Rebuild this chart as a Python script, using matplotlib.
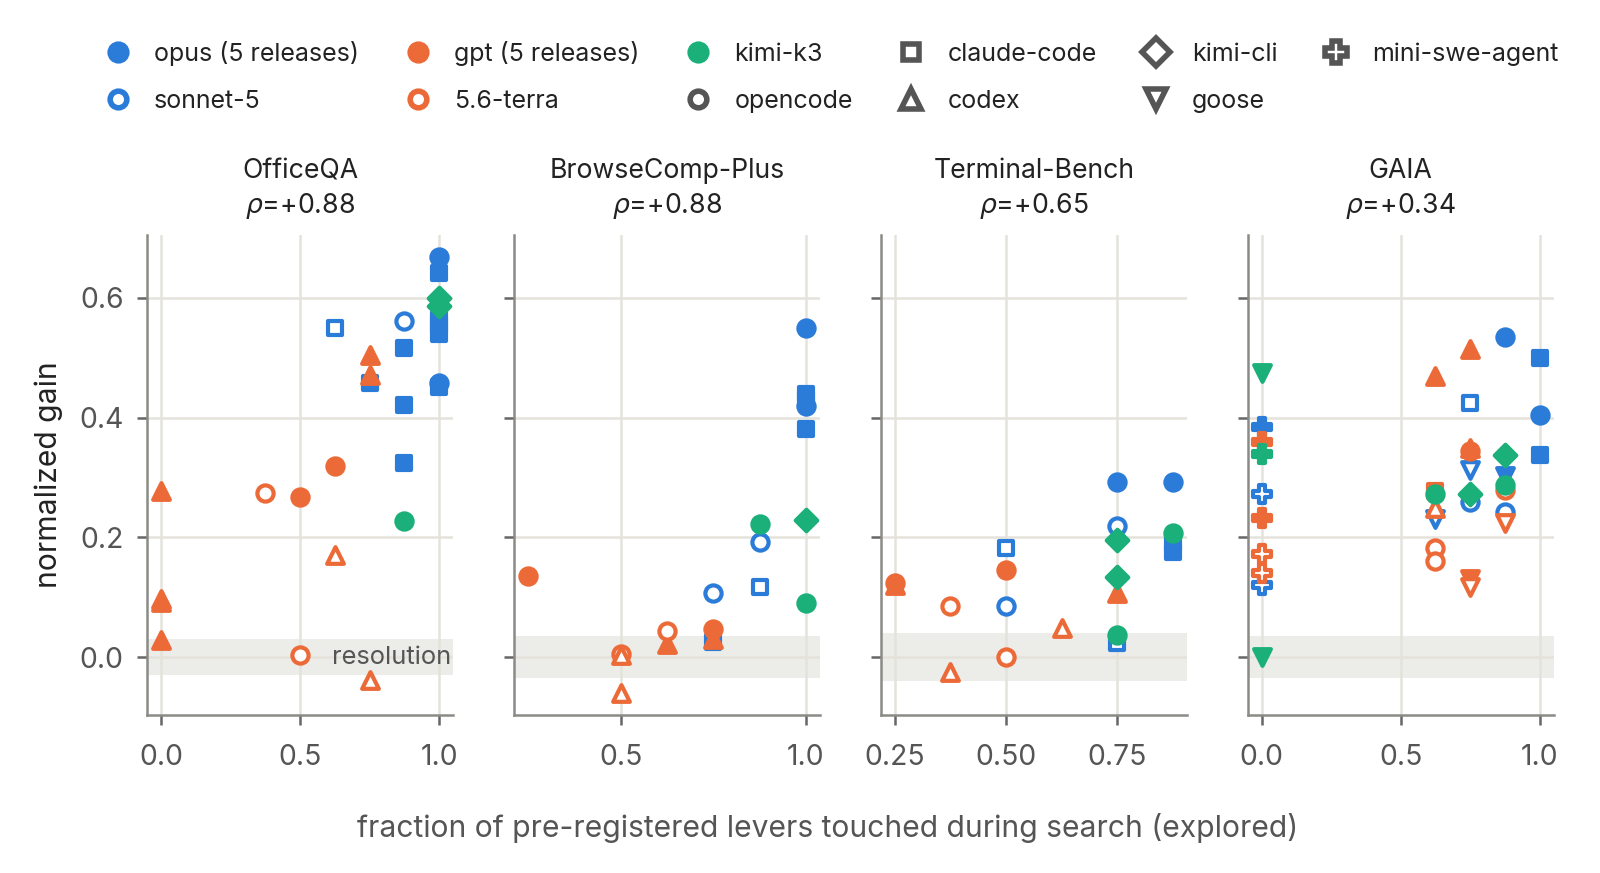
import matplotlib
matplotlib.use('Agg')
import matplotlib.pyplot as plt
from matplotlib.lines import Line2D

plt.rcParams['font.family'] = ['Inter', 'DejaVu Sans']
plt.rcParams['mathtext.fontset'] = 'dejavusans'

# panels
panels = ['OfficeQA', 'BrowseComp-Plus', 'Terminal-Bench', 'GAIA']
rhos = ['+0.88', '+0.88', '+0.65', '+0.34']
resolution = [0.03, 0.035, 0.04, 0.035]
xticks = [[0.0, 0.5, 1.0], [0.5, 1.0], [0.25, 0.5, 0.75], [0.0, 0.5, 1.0]]

# OfficeQA points
officeqa_x = [1.0, 1.0, 1.0, 1.0, 1.0, 1.0, 1.0, 0.875, 0.875, 0.875, 0.75,
              0.625, 0.875,
              0.75, 0.75, 0.625, 0.5, 0.0, 0.0, 0.0, 0.0,
              0.375, 0.625, 0.5, 0.75,
              0.875, 1.0, 1.0]
officeqa_y = [0.669, 0.642, 0.565, 0.555, 0.54, 0.458, 0.452, 0.516, 0.421, 0.325, 0.458,
              0.55, 0.561,
              0.504, 0.472, 0.32, 0.268, 0.278, 0.098, 0.092, 0.028,
              0.274, 0.171, 0.004, -0.038,
              0.228, 0.6, 0.587]
officeqa_model = ['opus'] * 11 + ['sonnet'] * 2 + ['gpt'] * 8 + ['terra'] * 4 + ['kimi'] * 3
officeqa_harness = ['opencode', 'claude-code', 'claude-code', 'claude-code', 'claude-code', 'opencode',
                    'claude-code', 'claude-code', 'claude-code', 'claude-code', 'claude-code',
                    'claude-code', 'opencode',
                    'codex', 'codex', 'opencode', 'opencode', 'codex', 'codex', 'codex', 'codex',
                    'opencode', 'codex', 'opencode', 'codex',
                    'opencode', 'kimi-cli', 'kimi-cli']

# BrowseComp-Plus points
browse_x = [1.0, 1.0, 1.0, 1.0, 1.0,
            0.875, 0.875, 0.75, 0.75,
            0.25, 0.75, 0.75, 0.625,
            0.625, 0.5, 0.5, 0.5,
            1.0, 1.0, 0.875]
browse_y = [0.55, 0.44, 0.43, 0.419, 0.381,
            0.193, 0.117, 0.108, 0.025,
            0.136, 0.047, 0.03, 0.022,
            0.043, 0.005, 0.003, -0.06,
            0.23, 0.09, 0.222]
browse_model = ['opus'] * 5 + ['sonnet'] * 4 + ['gpt'] * 4 + ['terra'] * 4 + ['kimi'] * 3
browse_harness = ['opencode', 'claude-code', 'claude-code', 'opencode', 'claude-code',
                  'opencode', 'claude-code', 'opencode', 'claude-code',
                  'opencode', 'opencode', 'codex', 'codex',
                  'opencode', 'opencode', 'codex', 'codex',
                  'kimi-cli', 'opencode', 'opencode']

# Terminal-Bench points
terminal_x = [0.75, 0.875, 0.875, 0.875,
              0.5, 0.5, 0.75, 0.75,
              0.25, 0.25, 0.5, 0.75,
              0.375, 0.375, 0.5, 0.625,
              0.75, 0.75, 0.75, 0.875]
terminal_y = [0.292, 0.292, 0.19, 0.175,
              0.182, 0.085, 0.219, 0.023,
              0.124, 0.12, 0.146, 0.107,
              0.085, -0.025, 0.0, 0.048,
              0.195, 0.134, 0.037, 0.207]
terminal_model = ['opus'] * 4 + ['sonnet'] * 4 + ['gpt'] * 4 + ['terra'] * 4 + ['kimi'] * 4
terminal_harness = ['opencode', 'opencode', 'claude-code', 'claude-code',
                    'claude-code', 'opencode', 'opencode', 'claude-code',
                    'opencode', 'codex', 'opencode', 'codex',
                    'opencode', 'codex', 'opencode', 'codex',
                    'kimi-cli', 'kimi-cli', 'opencode', 'opencode']

# GAIA points
gaia_x = [0.0, 0.875, 1.0, 1.0, 1.0, 0.875,
          0.0, 0.0, 0.75, 0.75, 0.75, 0.875, 0.625,
          0.0, 0.0, 0.75, 0.625, 0.75, 0.75, 0.625, 0.75,
          0.0, 0.0, 0.875, 0.625, 0.625, 0.625, 0.75, 0.875,
          0.0, 0.0, 0.0, 0.875, 0.75, 0.625, 0.875]
gaia_y = [0.385, 0.535, 0.5, 0.404, 0.338, 0.303,
          0.273, 0.121, 0.424, 0.313, 0.26, 0.243, 0.231,
          0.36, 0.232, 0.515, 0.47, 0.35, 0.344, 0.278, 0.13,
          0.172, 0.141, 0.28, 0.25, 0.182, 0.161, 0.118, 0.225,
          0.474, 0.001, 0.339, 0.338, 0.273, 0.273, 0.288]
gaia_model = ['opus'] * 6 + ['sonnet'] * 7 + ['gpt'] * 8 + ['terra'] * 8 + ['kimi'] * 7
gaia_harness = ['mini-swe-agent', 'opencode', 'claude-code', 'opencode', 'claude-code', 'goose',
                'mini-swe-agent', 'mini-swe-agent', 'claude-code', 'goose', 'opencode', 'opencode', 'goose',
                'mini-swe-agent', 'mini-swe-agent', 'codex', 'codex', 'codex', 'opencode', 'claude-code', 'goose',
                'mini-swe-agent', 'mini-swe-agent', 'opencode', 'codex', 'opencode', 'opencode', 'goose', 'goose',
                'goose', 'goose', 'mini-swe-agent', 'kimi-cli', 'kimi-cli', 'opencode', 'opencode']

panel_x = [officeqa_x, browse_x, terminal_x, gaia_x]
panel_y = [officeqa_y, browse_y, terminal_y, gaia_y]
panel_model = [officeqa_model, browse_model, terminal_model, gaia_model]
panel_harness = [officeqa_harness, browse_harness, terminal_harness, gaia_harness]

BLUE = '#2b7bd8'
ORANGE = '#ec6a37'
GREEN = '#1bb07a'
DARK = '#555555'
model_style = {'opus': (BLUE, True), 'sonnet': (BLUE, False), 'gpt': (ORANGE, True),
               'terra': (ORANGE, False), 'kimi': (GREEN, True)}
harness_marker = {'claude-code': 's', 'opencode': 'o', 'kimi-cli': 'D', 'codex': '^',
                  'goose': 'v', 'mini-swe-agent': 'P'}
msize = {'s': 28, 'o': 34, 'D': 30, '^': 36, 'v': 36, 'P': 40}

fig, axes = plt.subplots(1, 4, figsize=(8, 4.365), dpi=200, sharey=True)
fig.subplots_adjust(left=0.092, right=0.971, top=0.731, bottom=0.181, wspace=0.2)

for i, ax in enumerate(axes):
    ax.axhspan(-resolution[i], resolution[i], color='#ecece8', zorder=0, lw=0)
    for m in ['opus', 'sonnet', 'gpt', 'terra', 'kimi']:
        for x, y, mm, h in zip(panel_x[i], panel_y[i], panel_model[i], panel_harness[i]):
            if mm != m:
                continue
            c, filled = model_style[m]
            mk = harness_marker[h]
            ax.scatter(x, y, s=msize[mk], marker=mk, facecolor=c if filled else 'white',
                       edgecolor=c, linewidth=1.5, zorder=3)
    ax.set_xticks(xticks[i])
    ax.set_yticks([0.0, 0.2, 0.4, 0.6])
    ax.set_title(panels[i] + '\n' + r'$\rho$=' + rhos[i], fontsize=9.6, color='#222222',
                 pad=8, linespacing=1.3)
    ax.grid(True, color='#e4e2da', linewidth=0.9, zorder=1)
    ax.set_axisbelow(True)
    for s in ['top', 'right']:
        ax.spines[s].set_visible(False)
    for s in ['left', 'bottom']:
        ax.spines[s].set_color('#8a8a86')
        ax.spines[s].set_linewidth(0.9)
    ax.tick_params(axis='both', colors='#666666', labelsize=10.2, length=3.5, width=0.9)
    ax.tick_params(axis='x', pad=7)
    ax.tick_params(axis='y', pad=5)
    ax.tick_params(axis='both', labelcolor='#555555')

axes[0].text(1.045, 0.0, 'resolution', ha='right', va='center', fontsize=9.2, color='#555555', zorder=4)
axes[0].set_ylabel('normalized gain', fontsize=10.8, color='#222222', labelpad=6)
fig.text(0.517, 0.052, 'fraction of pre-registered levers touched during search (explored)',
         ha='center', va='center', fontsize=10.8, color='#555555')

# legend
handles = [
    Line2D([], [], ls='none', marker='o', ms=7, color=BLUE, mec=BLUE),
    Line2D([], [], ls='none', marker='o', ms=6, mfc='white', mec=BLUE, mew=2),
    Line2D([], [], ls='none', marker='o', ms=7, color=ORANGE, mec=ORANGE),
    Line2D([], [], ls='none', marker='o', ms=6, mfc='white', mec=ORANGE, mew=2),
    Line2D([], [], ls='none', marker='o', ms=7, color=GREEN, mec=GREEN),
    Line2D([], [], ls='none', marker='o', ms=6, mfc='white', mec=DARK, mew=2),
    Line2D([], [], ls='none', marker='s', ms=6, mfc='white', mec=DARK, mew=2),
    Line2D([], [], ls='none', marker='^', ms=7, mfc='white', mec=DARK, mew=2),
    Line2D([], [], ls='none', marker='D', ms=7, mfc='white', mec=DARK, mew=2),
    Line2D([], [], ls='none', marker='v', ms=7, mfc='white', mec=DARK, mew=2),
    Line2D([], [], ls='none', marker='P', ms=8, mfc='white', mec=DARK, mew=2),
]
labels = ['opus (5 releases)', 'sonnet-5', 'gpt (5 releases)', '5.6-terra', 'kimi-k3', 'opencode',
          'claude-code', 'codex', 'kimi-cli', 'goose', 'mini-swe-agent']
fig.legend(handles, labels, loc='upper center', bbox_to_anchor=(0.52, 0.979), ncol=6,
           frameon=False, fontsize=9, handlelength=1.0, handletextpad=0.95,
           columnspacing=1.85, labelspacing=0.95, labelcolor='#222222')

fig.savefig('out.png', dpi=200, facecolor='white')
